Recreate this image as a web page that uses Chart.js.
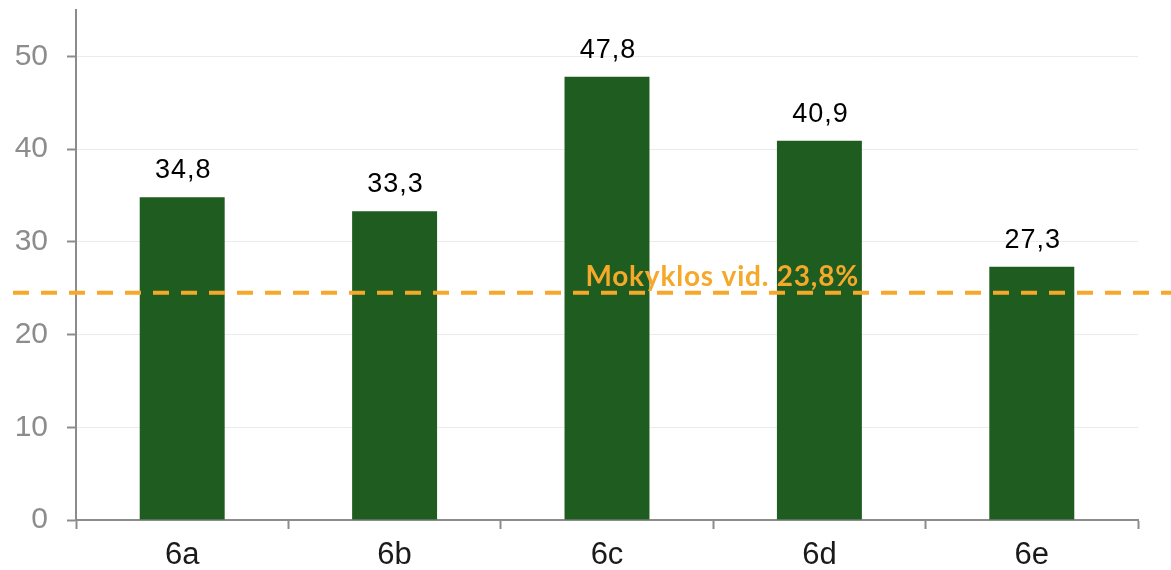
<!DOCTYPE html>
<html>
<head>
<meta charset="utf-8">
<script src="https://cdn.jsdelivr.net/npm/chart.js@4"></script>
<style>
  html, body { margin: 0; padding: 0; background: #ffffff; }
  #wrap { width: 1171px; height: 570px; position: relative; }
</style>
</head>
<body>
<div id="wrap"><canvas id="c"></canvas></div>
<script>
// ---- data ----
const categories = ['6a', '6b', '6c', '6d', '6e'];
const values = [34.8, 33.3, 47.8, 40.9, 27.3];
const valueLabels = ['34,8', '33,3', '47,8', '40,9', '27,3'];
const yTicks = [0, 10, 20, 30, 40, 50];
const avgLineValue = [24.5];
const avgLineLabel = ['Mokyklos vid. 23,8%'];

const GRID = '#ebebeb';
const AXIS = '#8c8c8c';
const BAR = '#1e5c20';
const ORANGE = '#f5a82a';

const labelsPlugin = {
  id: 'valueLabels',
  afterDatasetsDraw(chart) {
    const ctx = chart.ctx;
    const meta = chart.getDatasetMeta(0);
    ctx.save();
    ctx.fillStyle = '#000000';
    ctx.font = '27px "Liberation Sans", Arial, sans-serif';
    if ('letterSpacing' in ctx) ctx.letterSpacing = '1px';
    ctx.textAlign = 'center';
    ctx.textBaseline = 'alphabetic';
    meta.data.forEach((bar, i) => {
      ctx.fillText(valueLabels[i], bar.x + 1, bar.y - 19);
    });
    ctx.restore();
  }
};

const avgPlugin = {
  id: 'avgLine',
  afterDatasetsDraw(chart) {
    const ctx = chart.ctx;
    const ys = chart.scales.y;
    const xs = chart.scales.x;
    const y = ys.getPixelForValue(avgLineValue[0]);
    ctx.save();
    ctx.strokeStyle = ORANGE;
    ctx.lineWidth = 4;
    ctx.setLineDash([16, 12]);
    ctx.beginPath();
    ctx.moveTo(13, y);
    ctx.lineTo(chart.width, y);
    ctx.stroke();
    ctx.setLineDash([]);
    const cx = (xs.getPixelForValue(2) + xs.getPixelForValue(3)) / 2 + 9;
    ctx.fillStyle = ORANGE;
    ctx.font = 'bold 28px Lato, "Open Sans", sans-serif';
    if ('letterSpacing' in ctx) ctx.letterSpacing = '0.8px';
    ctx.textAlign = 'center';
    ctx.textBaseline = 'alphabetic';
    ctx.fillText(avgLineLabel[0], cx, y - 7);
    ctx.restore();
  }
};

new Chart(document.getElementById('c'), {
  type: 'bar',
  data: {
    labels: categories,
    datasets: [{
      data: values,
      backgroundColor: BAR,
      borderWidth: 0,
      barPercentage: 0.4,
      categoryPercentage: 1.0
    }]
  },
  options: {
    responsive: true,
    maintainAspectRatio: false,
    animation: false,
    layout: { padding: { top: 10, right: 33, left: 0, bottom: 0 } },
    plugins: {
      legend: { display: false },
      tooltip: { enabled: false }
    },
    scales: {
      x: {
        offset: true,
        grid: {
          offset: true,
          display: true,
          drawOnChartArea: false,
          drawTicks: true,
          tickLength: 9,
          tickColor: AXIS,
          tickWidth: 2
        },
        border: { display: true, color: AXIS, width: 2 },
        ticks: {
          color: '#1a1a1a',
          font: { family: '"Liberation Sans", Arial, sans-serif', size: 31 },
          padding: 8
        },
        afterFit(scale) {
          scale.height = 50;
          scale.paddingLeft = 0; scale.paddingRight = 0;
        }
      },
      y: {
        min: 0,
        max: 55,
        afterBuildTicks(scale) {
          scale.ticks = yTicks.map(v => ({ value: v }));
        },
        grid: {
          color: GRID,
          lineWidth: 1,
          drawTicks: true,
          tickLength: 9,
          tickColor: AXIS,
          tickWidth: 2
        },
        border: { display: true, color: AXIS, width: 2 },
        ticks: {
          color: '#8c8c8c',
          font: { family: '"Liberation Sans", Arial, sans-serif', size: 30 },
          padding: 19,
          callback: (v) => String(v)
        },
        afterFit(scale) {
          scale.width = 76;
          scale.paddingTop = 0; scale.paddingBottom = 0;
        }
      }
    }
  },
  plugins: [labelsPlugin, avgPlugin]
});
</script>
</body>
</html>
